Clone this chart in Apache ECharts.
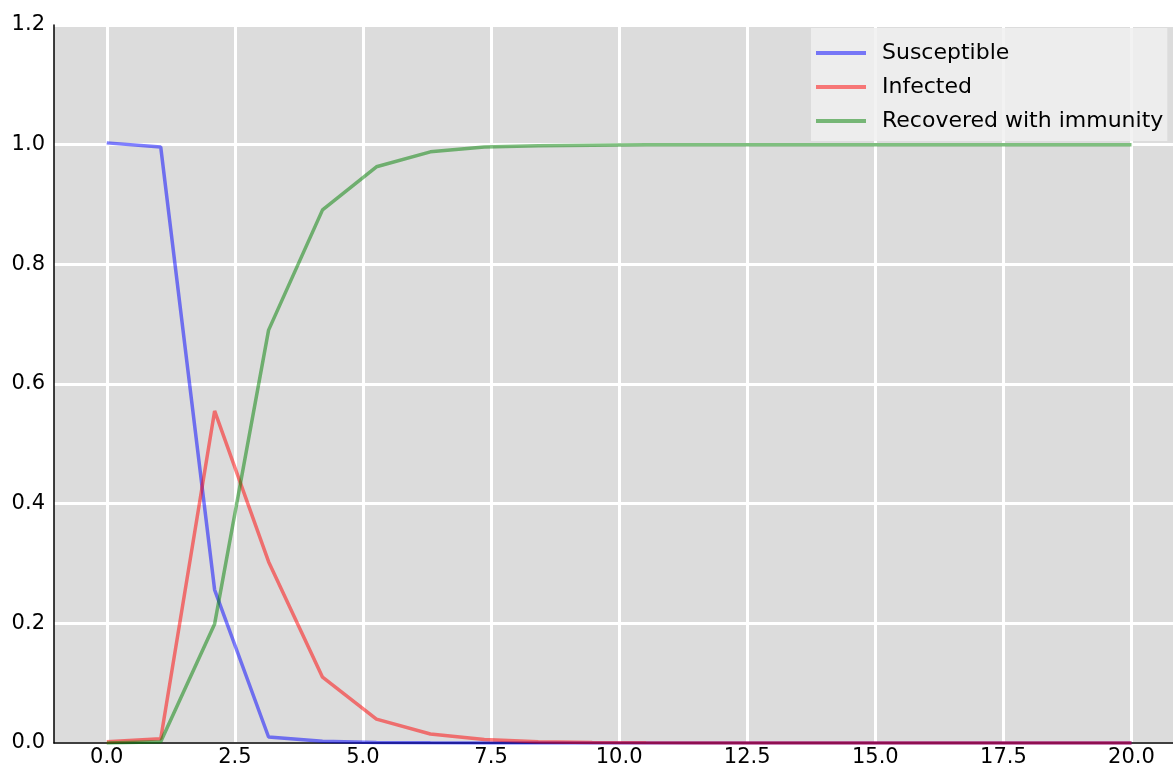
<!DOCTYPE html>
<html><head><meta charset="utf-8">
<script src="https://cdn.jsdelivr.net/npm/echarts@6/dist/echarts.min.js"></script>
<style>html,body{margin:0;padding:0;background:#fff}#c{width:1173px;height:769px}</style>
</head><body><div id="c"></div>
<script>
const xValues = [0, 1.053, 2.105, 3.158, 4.211, 5.263, 6.316, 7.368, 8.421, 9.474, 10.526, 11.579, 12.632, 13.684, 14.737, 15.789, 16.842, 17.895, 18.947, 20];
const susceptible = [1.003, 0.996, 0.256, 0.010, 0.003, 0.001, 0.0005, 0.0002, 0.0001, 0, 0, 0, 0, 0, 0, 0, 0, 0, 0, 0];
const infected = [0.002, 0.007, 0.555, 0.303, 0.110, 0.040, 0.015, 0.006, 0.002, 0.001, 0.0005, 0.0002, 0.0001, 0, 0, 0, 0, 0, 0, 0];
const recovered = [0, 0.002, 0.199, 0.690, 0.891, 0.963, 0.988, 0.996, 0.998, 0.999, 1.0, 1.0, 1.0, 1.0, 1.0, 1.0, 1.0, 1.0, 1.0, 1.0];
const xTicks = [0, 2.5, 5, 7.5, 10, 12.5, 15, 17.5, 20];
const seriesNames = ['Susceptible', 'Infected', 'Recovered with immunity'];

const font = 'DejaVu Sans';
const pair = arr => xValues.map((x, i) => [x, arr[i]]);
const mk = (name, arr, color) => ({
  name, type: 'line', data: pair(arr), symbol: 'none', showSymbol: false,
  lineStyle: { color, width: 3.5 }, itemStyle: { color }, z: 3
});
const chart = echarts.init(document.getElementById('c'));
chart.setOption({
  animation: false,
  backgroundColor: '#ffffff',
  grid: { left: 54, top: 25, bottom: 26, right: 0, show: true, backgroundColor: '#dcdcdc', borderWidth: 0 },
  xAxis: {
    type: 'value', min: -1.03, max: 20.81,
    axisLine: { show: true, onZero: false, lineStyle: { color: '#000', width: 1.5 } },
    axisTick: { show: false, customValues: xTicks },
    axisLabel: { customValues: xTicks, color: '#000', fontFamily: font, fontSize: 21, margin: 4,
      formatter: v => v.toFixed(1) },
    splitLine: { show: true, lineStyle: { color: '#ffffff', width: 3 } }
  },
  yAxis: {
    type: 'value', min: 0, max: 1.2, interval: 0.2,
    axisLine: { show: true, onZero: false, lineStyle: { color: '#000', width: 1.5 } },
    axisTick: { show: false },
    axisLabel: { color: '#000', fontFamily: font, fontSize: 21, margin: 9, formatter: v => v.toFixed(1) },
    splitLine: { show: true, lineStyle: { color: '#ffffff', width: 3 } }
  },
  legend: {
    orient: 'vertical', left: 811, top: 28, data: seriesNames,
    icon: 'rect', itemWidth: 50, itemHeight: 4, itemGap: 12,
    padding: [14, 4, 9, 5],
    backgroundColor: 'rgba(240,240,240,0.85)',
    textStyle: { color: '#000', fontFamily: font, fontSize: 22, padding: [0, 0, 0, 11] }
  },
  series: [
    mk(seriesNames[0], susceptible, 'rgba(0,0,255,0.5)'),
    mk(seriesNames[1], infected, 'rgba(255,0,0,0.5)'),
    mk(seriesNames[2], recovered, 'rgba(0,128,0,0.5)')
  ]
});
</script></body></html>
